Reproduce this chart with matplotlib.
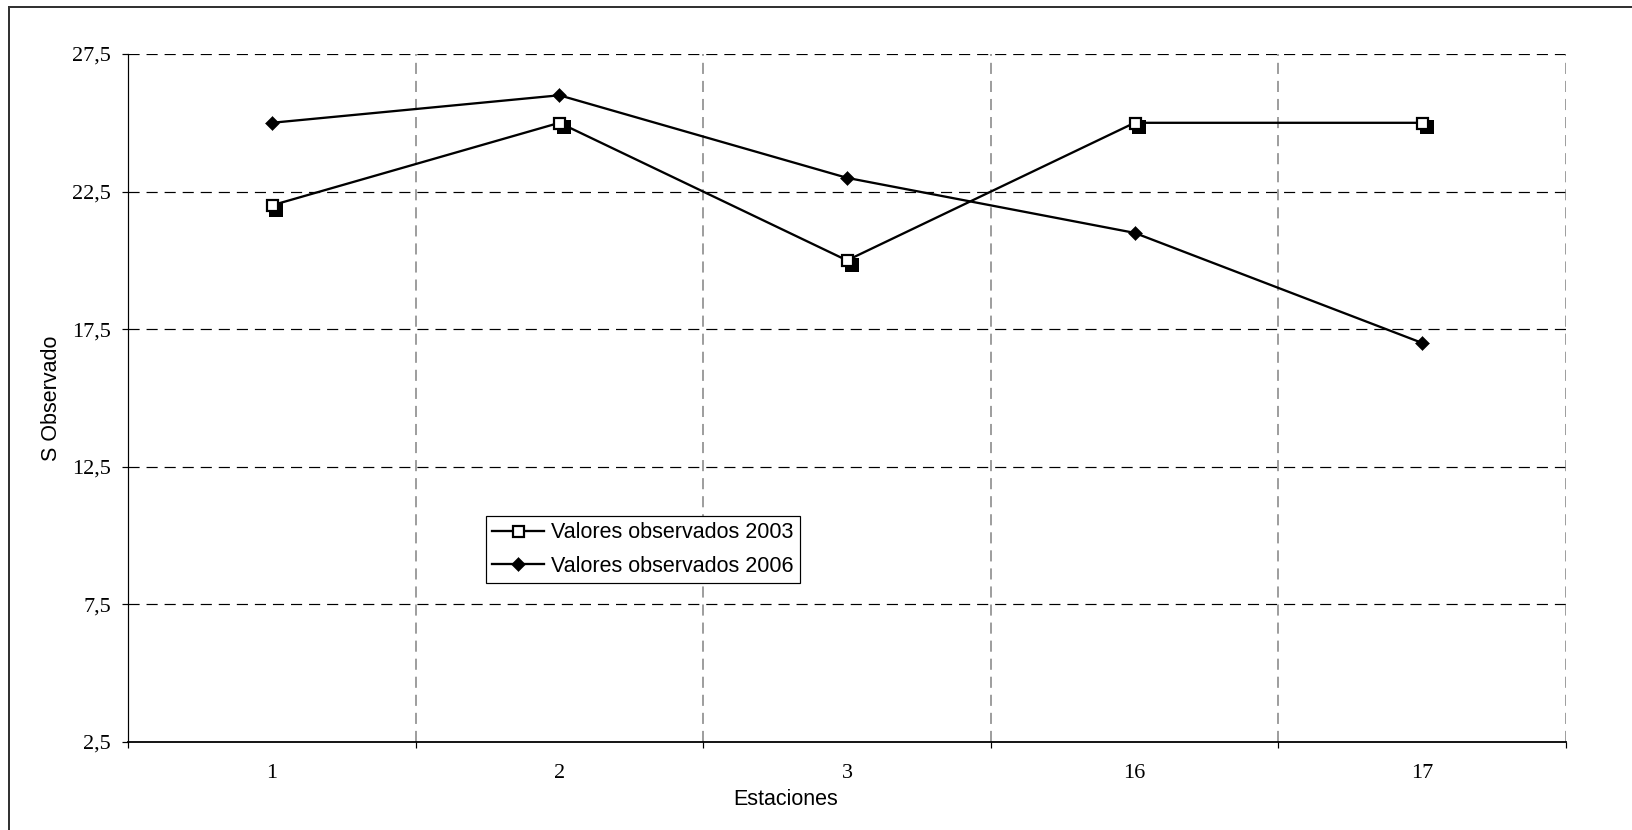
import matplotlib
matplotlib.use("Agg")
import matplotlib.pyplot as plt
import matplotlib.transforms as mtransforms
from matplotlib.patches import Rectangle

plt.rcParams['lines.scale_dashes'] = False

# ---- data ----
stations = ['1', '2', '3', '16', '17']
obs_2003 = [22, 25, 20, 25, 25]
obs_2006 = [25, 26, 23, 21, 17]
ytick_values = [2.5, 7.5, 12.5, 17.5, 22.5, 27.5]
ytick_labels = ['2,5', '7,5', '12,5', '17,5', '22,5', '27,5']
label_2003 = 'Valores observados 2003'
label_2006 = 'Valores observados 2006'
xlabel = 'Estaciones'
ylabel = 'S Observado'

W, H, DPI = 1632, 830, 100
PX = 72.0 / DPI  # points per pixel

fig = plt.figure(figsize=(W / DPI, H / DPI), dpi=DPI)
fig.patch.set_facecolor('white')

# outer chart border (only left / top visible)
fig.patches.append(Rectangle((9 / W, -0.2), 1.5, 1.2 - 7 / H, transform=fig.transFigure,
                             fill=False, edgecolor='#333333', linewidth=2 * PX, zorder=0))

ax = fig.add_axes([128 / W, 1 - 742 / H, 1438 / W, 688 / H])

x = list(range(1, len(stations) + 1))
ax.set_xlim(0.5, len(stations) + 0.5)
ax.set_ylim(ytick_values[0], ytick_values[-1])

dash = (0, (8, 5))
# horizontal gridlines (black dashed)
for yv in ytick_values[1:]:
    ax.axhline(yv, color='black', linewidth=1.2 * PX, linestyle=dash, zorder=1)
# vertical gridlines at category boundaries (gray dashed)
for xb in [i + 0.5 for i in x]:
    ax.axvline(xb, color='#808080', linewidth=1.5 * PX, linestyle=dash, zorder=1)

# shadow for 2003 squares
shadow = mtransforms.ScaledTranslation(4.5 / DPI, -4.5 / DPI, fig.dpi_scale_trans)
ax.plot(x, obs_2003, linestyle='none', marker='s', markersize=11.5 * PX,
        markerfacecolor='black', markeredgecolor='black', markeredgewidth=2 * PX,
        transform=ax.transData + shadow, zorder=2, clip_on=False)

ax.plot(x, obs_2003, color='black', linewidth=2.3 * PX, marker='s', markersize=11 * PX,
        markerfacecolor='white', markeredgecolor='black', markeredgewidth=2.2 * PX,
        label=label_2003, zorder=3, clip_on=False)
ax.plot(x, obs_2006, color='black', linewidth=2.3 * PX, marker='D', markersize=10.5 * PX,
        markerfacecolor='black', markeredgecolor='black', markeredgewidth=0.5 * PX,
        label=label_2006, zorder=3, clip_on=False)

# spines
for s in ['top', 'right']:
    ax.spines[s].set_visible(False)
ax.spines['left'].set_linewidth(1.2 * PX)
ax.spines['bottom'].set_linewidth(1.8 * PX)

serif = ['Liberation Serif', 'DejaVu Serif']
sans = ['Liberation Sans', 'DejaVu Sans']

# y ticks
ax.set_yticks(ytick_values)
ax.set_yticklabels(ytick_labels, fontfamily=serif, fontsize=16)
ax.tick_params(axis='y', direction='out', length=6 * PX, width=1.2 * PX, pad=11 * PX)

# x ticks: major at boundaries (no labels), minor at centres with labels
ax.set_xticks([i - 0.5 for i in x] + [x[-1] + 0.5])
ax.set_xticklabels([])
ax.set_xticks(x, minor=True)
ax.set_xticklabels(stations, minor=True, fontfamily=serif, fontsize=16)
ax.tick_params(axis='x', which='major', direction='out', length=6 * PX, width=1.2 * PX)
ax.tick_params(axis='x', which='minor', length=0, pad=22 * PX)

ax.set_xlabel(xlabel, fontfamily=sans, fontsize=15.5)
ax.xaxis.set_label_coords((786 - 128) / 1438, (742 - 799) / 688)
ax.xaxis.label.set_va('center')
ax.set_ylabel(ylabel, fontfamily=sans, fontsize=15.5)
ax.yaxis.set_label_coords((51 - 128) / 1438, 0.5)
ax.yaxis.label.set_va('center')

leg = ax.legend(loc='upper left', bbox_to_anchor=((486 - 128) / 1438, (742 - 516) / 688),
                prop={'family': sans, 'size': 15.5}, frameon=True, fancybox=False,
                edgecolor='black', framealpha=1, borderaxespad=0, borderpad=0.3,
                handlelength=2.4, handletextpad=0.3, labelspacing=0.58)
leg.get_frame().set_linewidth(1.2 * PX)

fig.savefig('out.png', dpi=DPI, facecolor='white')
